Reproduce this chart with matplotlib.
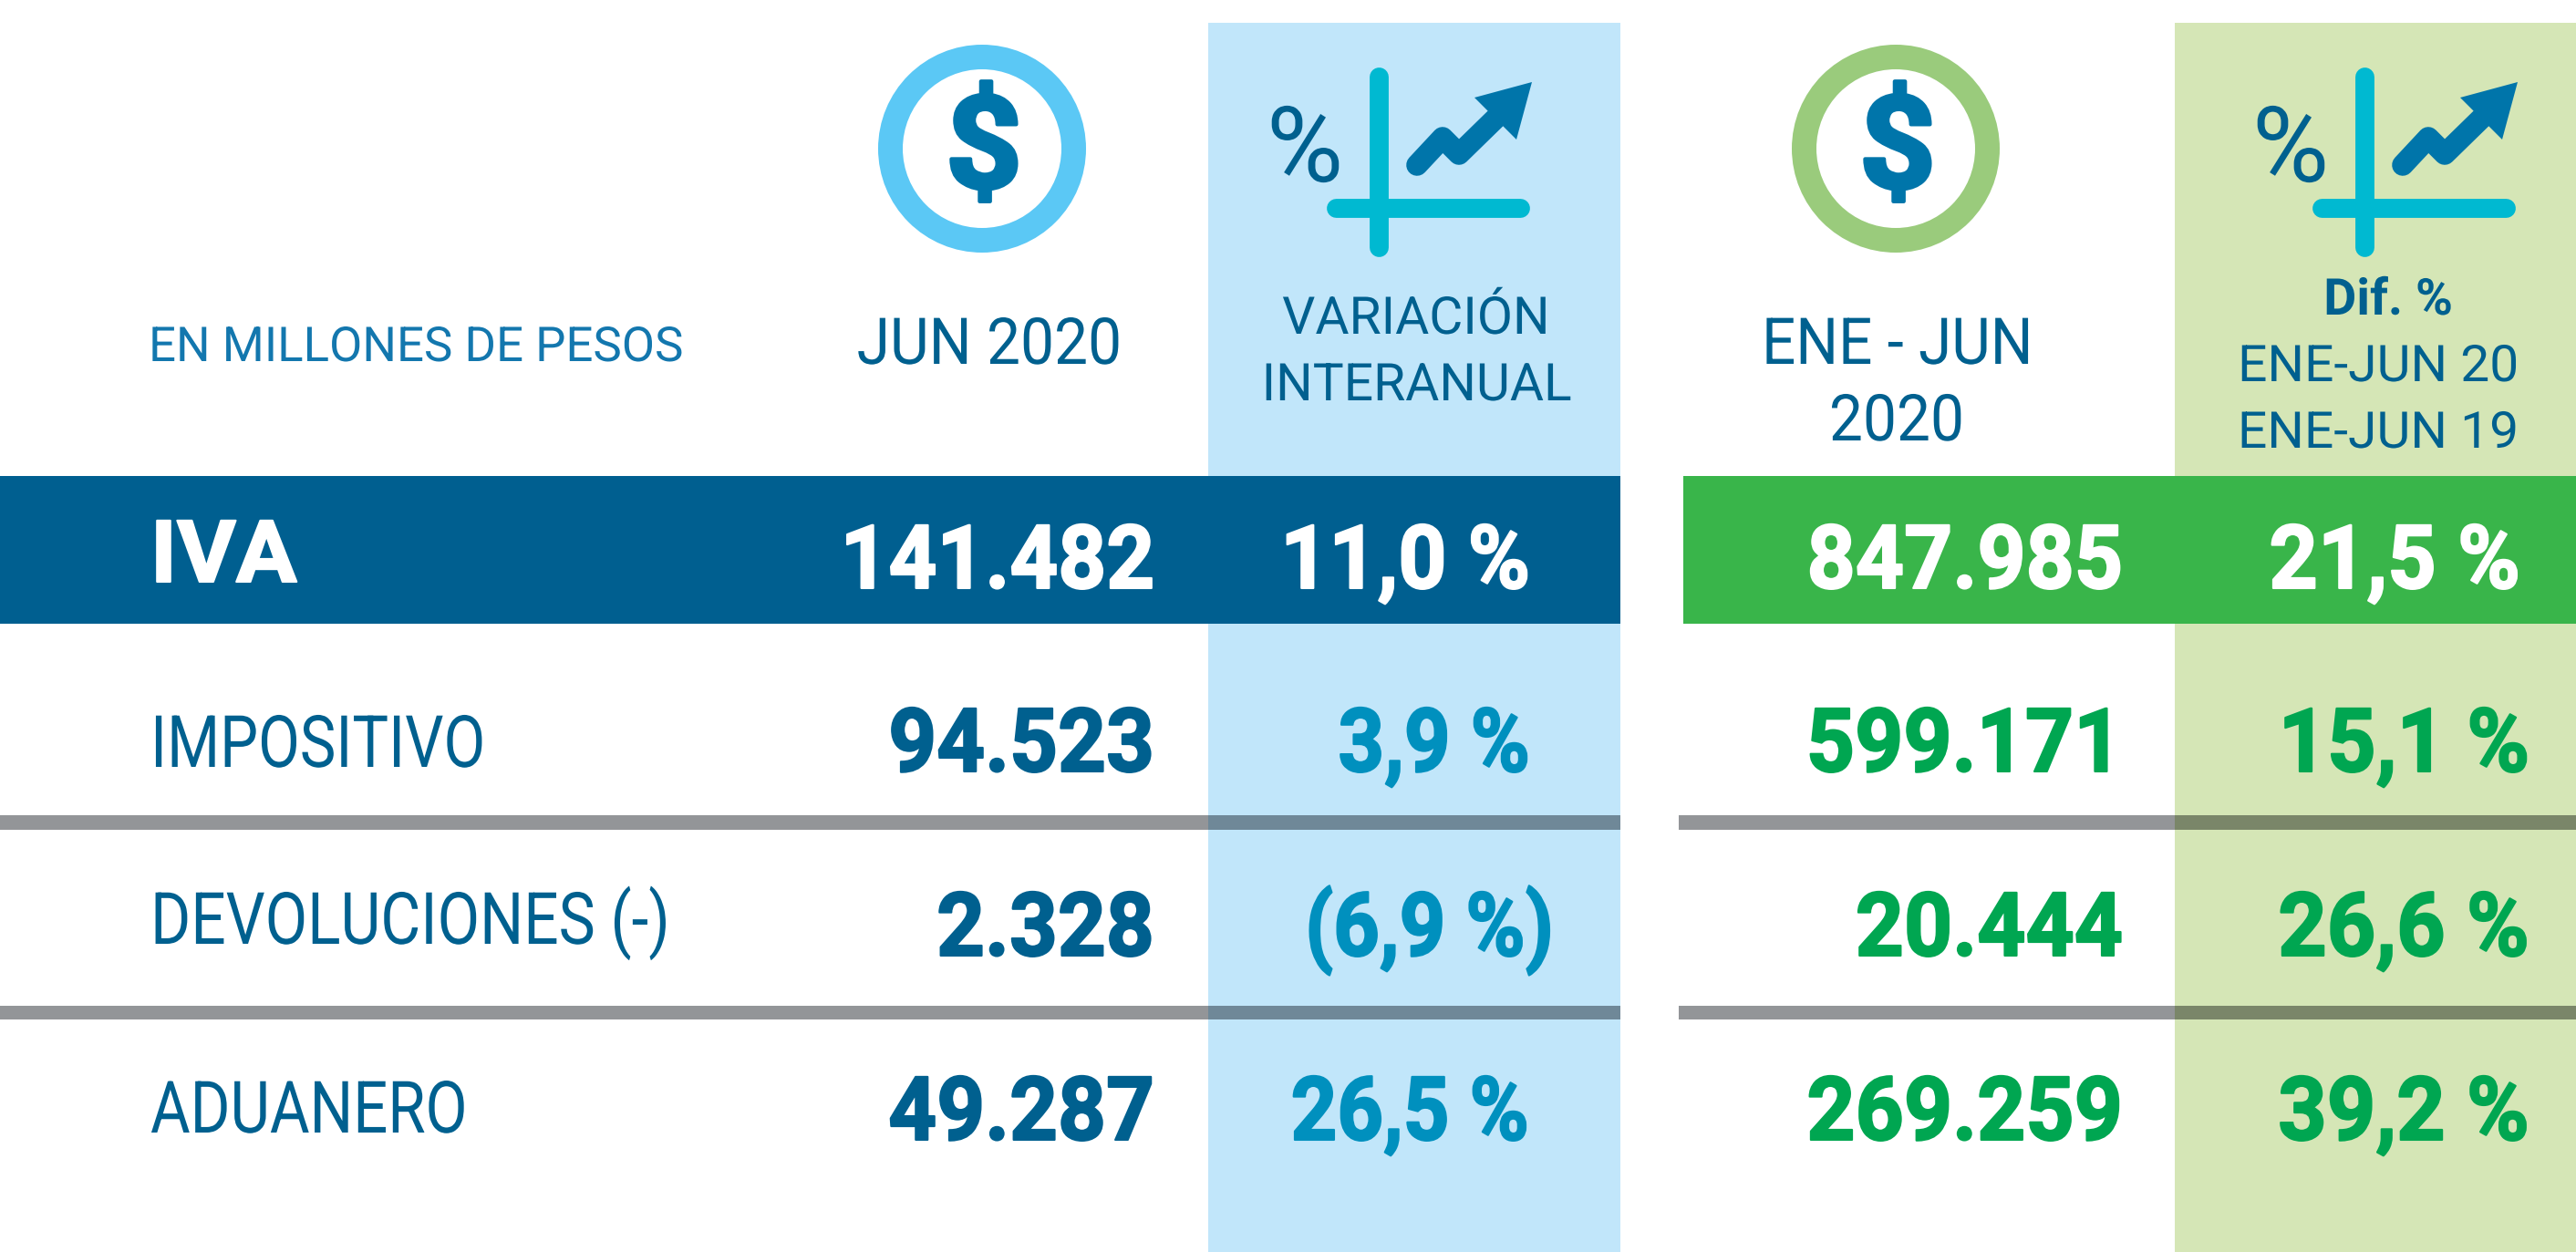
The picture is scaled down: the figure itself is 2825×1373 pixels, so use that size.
# -*- coding: utf-8 -*-

import matplotlib
matplotlib.use("Agg")
import matplotlib.pyplot as plt
from matplotlib.patches import Rectangle, Ellipse, Polygon
from matplotlib.patheffects import AbstractPathEffect
from matplotlib.transforms import Affine2D

row_labels = ["IVA", "IMPOSITIVO", "DEVOLUCIONES (-)", "ADUANERO"]
jun_values = [141482, 94523, 2328, 49287]
jun_var = [11.0, 3.9, -6.9, 26.5]
acum_values = [847985, 599171, 20444, 269259]
acum_var = [21.5, 15.1, 26.6, 39.2]

DARK = "#00608F"
BLUE = "#0075AA"
LIGHT = "#0090BE"
GREEN = "#00A651"
W, H = 2825, 1373


def miles(v):
    return f"{v:,}".replace(",", ".")


def pct(v):
    s = f"{abs(v):.1f}".replace(".", ",") + " %"
    return f"({s})" if v < 0 else s


class Narrow(AbstractPathEffect):
    # la fuente condensada no esta instalada: angosta el texto alrededor de x0
    def __init__(self, sx, x0, lw=0):
        super().__init__()
        self.sx = sx
        self.x0 = x0
        self.lw = lw

    def draw_path(self, renderer, gc, tpath, affine, rgbFace):
        t = affine + Affine2D().translate(-self.x0, 0).scale(self.sx, 1).translate(self.x0, 0)
        gc0 = renderer.new_gc()
        gc0.copy_properties(gc)
        if self.lw:
            gc0.set_linewidth(self.lw)
            gc0.set_foreground(rgbFace)
            gc0.set_joinstyle("round")
        renderer.draw_path(gc0, tpath, t, rgbFace)
        gc0.restore()


fig = plt.figure(figsize=(W / 100, H / 100), dpi=100, facecolor="white")
ax = fig.add_axes([0, 0, 1, 1])
ax.set_xlim(0, W)
ax.set_ylim(H, 0)
ax.axis("off")


def rect(x0, y0, x1, y1, color, z=1):
    ax.add_patch(Rectangle((x0, y0), x1 - x0, y1 - y0, fc=color, ec="none", zorder=z))


def txt(x, y, s, size, color, ha="left", sx=1.0, lw=0, weight="normal", family="Roboto"):
    t = ax.text(x, y, s, family=family, weight=weight, fontsize=size, color=color, ha=ha, va="baseline", zorder=6)
    t.set_path_effects([Narrow(sx, x, lw)])
    return t


# fondos de columnas
rect(1325, 25, 1777, H, "#C1E6FA")
rect(2385, 25, W, H, "#D5E6B6")

# banda IVA
rect(0, 522, 1777, 684, "#005F90", 2)
rect(1846, 522, W, 684, "#39B54A", 2)

# separadores
for y0, y1 in [(894, 910), (1103, 1118)]:
    rect(0, y0, 1325, y1, "#939598", 2)
    rect(1325, y0, 1777, y1, "#6F8898", 2)
    rect(1841, y0, 2385, y1, "#939598", 2)
    rect(2385, y0, W, y1, "#7A8669", 2)


def icon_money(cx, color):
    ax.add_patch(Ellipse((cx, 163), 228, 228, fc=color, ec="none", zorder=3))
    ax.add_patch(Ellipse((cx, 163), 174, 174, fc="white", ec="none", zorder=4))
    txt(cx + 2, 206, "$", 102, BLUE, ha="center", sx=1.04, lw=3, weight="bold")


def icon_trend(dx):
    ax.plot([1512 + dx, 1512 + dx], [84, 271], color="#00B9D1", lw=15, solid_capstyle="round", zorder=3)
    ax.plot([1465 + dx, 1667 + dx], [227.5, 227.5], color="#00B9D1", lw=15, solid_capstyle="round", zorder=3)
    ax.plot([1554 + dx, 1582 + dx, 1600 + dx, 1642 + dx], [181, 151, 169, 128], color=BLUE, lw=17,
            solid_capstyle="round", solid_joinstyle="round", zorder=4)
    pts = [(1680, 90), (1617, 107), (1663, 153)]
    ax.add_patch(Polygon([(x + dx, y) for x, y in pts], closed=True, fc=BLUE, ec="none", zorder=4))
    txt(1431 + dx, 199, "%", 83, DARK, ha="center")


icon_money(1077, "#5BC8F5")
icon_money(2079, "#9ACB7C")
icon_trend(0)
icon_trend(1081)

# encabezados
txt(163, 396, "EN MILLONES DE PESOS", 38, "#1377AE")
txt(1085, 399, "JUN 2020", 51, DARK, ha="center", sx=0.93)
txt(1553, 366, "VARIACIÓN", 41, DARK, ha="center")
txt(1554, 439, "INTERANUAL", 41, DARK, ha="center")
txt(2081, 399, "ENE - JUN", 51, DARK, ha="center", sx=0.926)
txt(2080, 483, "2020", 51, DARK, ha="center", sx=0.93)
txt(2619, 345, "Dif. %", 40, DARK, ha="center", weight="bold")
txt(2608, 418, "ENE-JUN 20", 40, DARK, ha="center", sx=1.025)
txt(2608, 491, "ENE-JUN 19", 40, DARK, ha="center", sx=1.025)

# filas
base_label = [638, 841, 1035, 1242]
base_num = [645, 846, 1048, 1250]
label_sx = [1.05, 0.84, 0.853, 0.845]
acum_right = [2328, 2327, 2328, 2328]
var_right = [1678, 1678, 1704, 1677]
var_sx = [0.955, 0.91, 0.91, 0.91]
acum_var_right = [2764, 2774, 2774, 2774]

for i, lab in enumerate(row_labels):
    first = i == 0
    txt(165, base_label[i], lab, 68 if first else 57, "white" if first else DARK, sx=label_sx[i],
        weight="bold" if first else "normal", lw=1.5 if first else 0)
    txt(1266, base_num[i], miles(jun_values[i]), 70, "white" if first else DARK, "right", 0.95, 1.5, "bold")
    txt(var_right[i], base_num[i], pct(jun_var[i]), 70, "white" if first else LIGHT, "right", var_sx[i], 1.5, "bold")
    txt(acum_right[i], base_num[i], miles(acum_values[i]), 70, "white" if first else GREEN, "right", 0.955, 1.5, "bold")
    txt(acum_var_right[i], base_num[i], pct(acum_var[i]), 70, "white" if first else GREEN, "right", 0.96, 1.5, "bold")

fig.savefig("out.png", dpi=100)
